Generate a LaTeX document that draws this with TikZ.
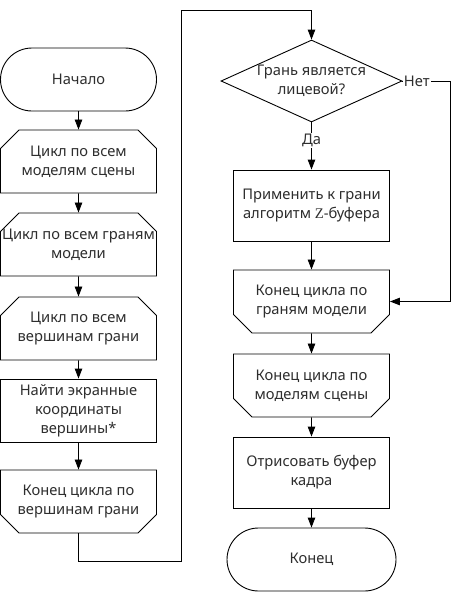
\documentclass[tikz,border=0pt]{standalone}
\usepackage{fontspec}
\setmainfont{Noto Sans}
\newfontfamily\zfont{Liberation Serif}
\usetikzlibrary{arrows.meta,shapes.geometric,shapes.misc}

% a line that may run past the box without widening it
\newcommand{\wideline}[1]{\makebox[0pt]{#1}}

\tikzset{
  base/.style={draw=black, line width=0.9pt, text=black!82, align=center,
    inner sep=0pt, minimum width=156pt, minimum height=63pt,
    font=\fontsize{14.7}{19}\selectfont},
  term/.style={base, rounded corners=31.5pt},
  proc/.style={base, rectangle},
  loopstart/.style={base, chamfered rectangle,
    chamfered rectangle corners={north west,north east},
    chamfered rectangle xsep=15pt},
  loopend/.style={base, chamfered rectangle,
    chamfered rectangle corners={south west,south east},
    chamfered rectangle xsep=15pt},
  decision/.style={base, diamond, shape aspect=2.2,
    minimum width=181pt, minimum height=82pt},
  flow/.style={draw=black, line width=0.9pt, -{Triangle[length=10pt,width=7.5pt]}},
  lbl/.style={fill=white, inner sep=1pt, text=black!82,
    font=\fontsize{14.7}{16}\selectfont}
}

\begin{document}
\begin{tikzpicture}[x=1pt,y=-1pt]
  \useasboundingbox (0,0) rectangle (463,592);

  % left column
  \node[term]      (start) at (78.5,79.5)  {Начало};
  \node[loopstart] (lm)    at (78.5,161.5) {Цикл по всем\\моделям сцены};
  \node[loopstart] (lf)    at (78.5,244.5) {\wideline{Цикл по всем граням}\\модели};
  \node[loopstart] (lv)    at (78.5,328.5) {Цикл по всем\\вершинам грани};
  \node[proc]      (find)  at (78.5,410.5) {Найти экранные\\координаты\\вершины*};
  \node[loopend]   (ev)    at (78.5,501.5) {Конец цикла по\\вершинам грани};

  % right column
  \node[decision]  (face)  at (311.5,81)   {Грань является\\лицевой?};
  \node[proc, minimum height=71pt] (zbuf) at (311.5,205.5) {Применить к грани\\алгоритм {\zfont Z}-буфера};
  \node[loopend]   (ef)    at (311.5,301.5) {Конец цикла по\\граням модели};
  \node[loopend]   (em)    at (311.5,385.5) {Конец цикла по\\моделям сцены};
  \node[proc, minimum height=71pt] (show) at (311.5,472.5) {Отрисовать буфер\\кадра};
  \node[term, minimum width=169pt] (stop) at (311.5,559.5) {Конец};

  % bends of the long connectors
  \coordinate (b1) at (78.5,561);
  \coordinate (b2) at (181,561);
  \coordinate (b3) at (181,10);
  \coordinate (b4) at (311.5,10);
  \coordinate (n1) at (450,81);
  \coordinate (n2) at (450,301.5);

  % connectors
  \draw[flow] (start) -- (lm);
  \draw[flow] (lm) -- (lf);
  \draw[flow] (lf) -- (lv);
  \draw[flow] (lv) -- (find);
  \draw[flow] (find) -- (ev);
  \draw[flow] (ev.south) -- (b1) -- (b2) -- (b3) -- (b4) -- (face.north);
  \draw[flow] (face.south) -- node[lbl, pos=0.38] {Да} (zbuf.north);
  \draw[flow] (face.east) -- node[lbl, pos=0.3] {Нет} (n1) -- (n2) -- (ef.east);
  \draw[flow] (zbuf) -- (ef);
  \draw[flow] (ef) -- (em);
  \draw[flow] (em) -- (show);
  \draw[flow] (show) -- (stop);
\end{tikzpicture}
\end{document}
